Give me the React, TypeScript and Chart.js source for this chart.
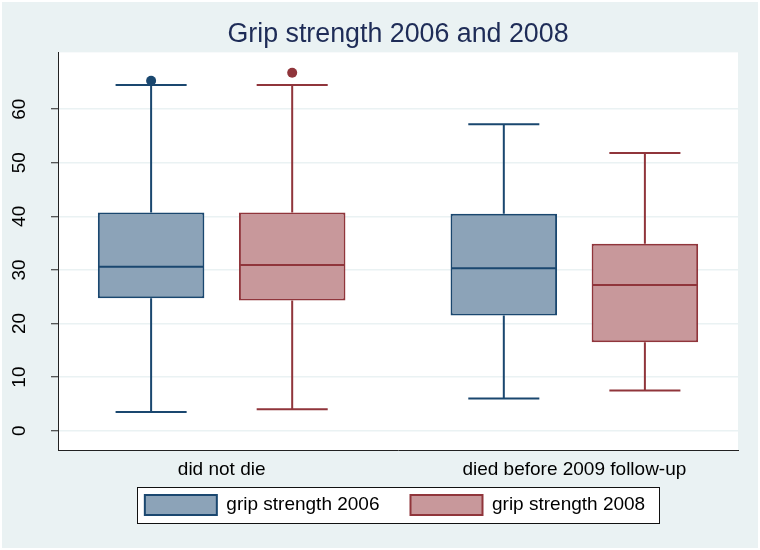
import { useEffect, useRef } from 'react';
import { Chart, registerables } from 'chart.js';

Chart.register(...registerables);

const FONT = "'Liberation Sans', Arial, Helvetica, sans-serif";

// Groups on the horizontal axis
const categories = ['did not die', 'died before 2009 follow-up'];
const groupPositions = [1, 2];
const yTicks = [0, 10, 20, 30, 40, 50, 60];

// grip strength 2006: five-number summaries per group
const min2006 = [3.5, 6.0];
const q1_2006 = [24.7, 21.5];
const median2006 = [30.6, 30.3];
const q3_2006 = [40.7, 40.5];
const max2006 = [64.5, 57.2];
const outliers2006 = [[65.3], []];

// grip strength 2008: five-number summaries per group
const min2008 = [4.0, 7.5];
const q1_2008 = [24.3, 16.5];
const median2008 = [30.9, 27.2];
const q3_2008 = [40.7, 34.9];
const max2008 = [64.5, 51.8];
const outliers2008 = [[66.8], []];

const NAVY = '#1A476F';
const NAVY_FILL = '#8CA3B8';
const MAROON = '#90353B';
const MAROON_FILL = '#C8989B';
const PAGE_BG = '#EAF2F3';

type Stats = { min: number[]; median: number[]; max: number[]; outliers: number[][] };

function boxDataset(label: string, q1: number[], q3: number[], stats: Stats, fill: string, line: string) {
  return {
    label,
    data: groupPositions.map((x, i) => ({ x, y: [q1[i], q3[i]] })),
    backgroundColor: fill,
    borderColor: line,
    borderWidth: 2,
    borderSkipped: false,
    categoryPercentage: 0.8,
    barPercentage: 0.755,
    stats,
  };
}

// Lifts the legend panel up into the gap under the category labels
const legendPlacement = {
  id: 'legendPlacement',
  afterLayout(chart: any) {
    const lg = chart.legend;
    if (!lg) return;
    lg.top -= 25;
    lg.bottom -= 25;
    lg.left -= 3;
    lg.right -= 3;
  },
};

// Paints the page background, the white plot region and the framed legend panel
const backdrop = {
  id: 'backdrop',
  beforeDraw(chart: any) {
    const { ctx, width, height, chartArea } = chart;
    ctx.save();
    ctx.fillStyle = '#ffffff';
    ctx.fillRect(0, 0, width, height);
    ctx.fillStyle = PAGE_BG;
    ctx.fillRect(2, 2, width - 4, height - 4);
    ctx.fillStyle = '#ffffff';
    ctx.fillRect(chartArea.left, chartArea.top, chartArea.right - chartArea.left, chartArea.bottom - chartArea.top);

    const boxes = chart.legend?.legendHitBoxes || [];
    if (boxes.length) {
      const first = boxes[0];
      const last = boxes[boxes.length - 1];
      const left = Math.round(first.left - 8) + 0.5;
      const right = Math.round(last.left + last.width + 14) + 0.5;
      const top = Math.round(first.top - 8) + 0.5;
      const bottom = Math.round(first.top + first.height + 8) + 0.5;
      ctx.fillStyle = '#ffffff';
      ctx.fillRect(left, top, right - left, bottom - top);
      ctx.strokeStyle = '#111111';
      ctx.lineWidth = 1;
      ctx.strokeRect(left, top, right - left, bottom - top);
    }
    ctx.restore();
  },
};

// Draws medians, whiskers, caps and outside values over the interquartile bars
const boxWhiskers = {
  id: 'boxWhiskers',
  afterDatasetsDraw(chart: any) {
    const { ctx } = chart;
    const yScale = chart.scales.y;
    chart.data.datasets.forEach((ds: any, di: number) => {
      const meta = chart.getDatasetMeta(di);
      const st: Stats = ds.stats;
      meta.data.forEach((bar: any, i: number) => {
        const { x, width } = bar.getProps(['x', 'width'], true);
        const half = width / 2;
        const cap = (width * 0.667) / 2;
        const [q1, q3] = ds.data[i].y;
        const pQ1 = yScale.getPixelForValue(q1);
        const pQ3 = yScale.getPixelForValue(q3);
        const pMed = yScale.getPixelForValue(st.median[i]);
        const pMin = yScale.getPixelForValue(st.min[i]);
        const pMax = yScale.getPixelForValue(st.max[i]);
        ctx.save();
        ctx.strokeStyle = ds.borderColor;
        ctx.lineWidth = 2;
        ctx.beginPath();
        ctx.moveTo(x - half + 1, pMed);
        ctx.lineTo(x + half - 1, pMed);
        ctx.moveTo(x, pQ3);
        ctx.lineTo(x, pMax);
        ctx.moveTo(x - cap, pMax);
        ctx.lineTo(x + cap, pMax);
        ctx.moveTo(x, pQ1);
        ctx.lineTo(x, pMin);
        ctx.moveTo(x - cap, pMin);
        ctx.lineTo(x + cap, pMin);
        ctx.stroke();
        ctx.fillStyle = ds.borderColor;
        st.outliers[i].forEach((v) => {
          ctx.beginPath();
          ctx.arc(x, yScale.getPixelForValue(v), 5, 0, Math.PI * 2);
          ctx.fill();
        });
        ctx.restore();
      });
    });
  },
};

export default function App() {
  const canvasRef = useRef<HTMLCanvasElement | null>(null);

  useEffect(() => {
    if (!canvasRef.current) return;
    const chart = new Chart(canvasRef.current, {
      type: 'bar',
      data: {
        datasets: [
          boxDataset('grip strength 2006', q1_2006, q3_2006,
            { min: min2006, median: median2006, max: max2006, outliers: outliers2006 }, NAVY_FILL, NAVY) as any,
          boxDataset('grip strength 2008', q1_2008, q3_2008,
            { min: min2008, median: median2008, max: max2008, outliers: outliers2008 }, MAROON_FILL, MAROON) as any,
        ],
      },
      options: {
        responsive: false,
        animation: false,
        events: [],
        layout: { padding: { left: 0, right: 22, top: 0, bottom: 0 } },
        plugins: {
          title: {
            display: true,
            text: 'Grip strength 2006 and 2008',
            fullSize: false,
            color: '#1E2C57',
            font: { family: FONT, size: 26.8, weight: 'normal' },
            padding: { top: 19, bottom: 1.2 },
          },
          legend: {
            position: 'bottom',
            fullSize: false,
            labels: {
              boxWidth: 72,
              boxHeight: 20,
              padding: 31,
              color: '#000000',
              font: { family: FONT, size: 19 },
            },
          },
          tooltip: { enabled: false },
        },
        scales: {
          x: {
            type: 'linear',
            min: 0.536,
            max: 2.464,
            offset: false,
            afterBuildTicks: (s: any) => {
              s.ticks = groupPositions.map((v) => ({ value: v }));
            },
            afterFit: (s: any) => {
              s.height = 39;
            },
            ticks: {
              callback: (v: any) => categories[groupPositions.indexOf(Number(v))],
              padding: 8,
              autoSkip: false,
              maxRotation: 0,
              color: '#000000',
              font: { family: FONT, size: 19 },
            },
            grid: { display: false, drawTicks: false },
            border: { display: true, color: '#222222', width: 1 },
          },
          y: {
            type: 'linear',
            min: -3.6,
            max: 70.6,
            afterBuildTicks: (s: any) => {
              s.ticks = yTicks.map((v) => ({ value: v }));
            },
            afterFit: (s: any) => {
              s.width = 58;
            },
            ticks: {
              minRotation: 90,
              maxRotation: 90,
              crossAlign: 'center',
              padding: 20.5,
              color: '#000000',
              font: { family: FONT, size: 19 },
            },
            grid: {
              color: PAGE_BG,
              lineWidth: 1.5,
              tickLength: 7,
              tickColor: '#222222',
              tickWidth: 1,
            },
            border: { display: true, color: '#222222', width: 1 },
          },
        },
      } as any,
      plugins: [legendPlacement, backdrop, boxWhiskers],
    });
    return () => chart.destroy();
  }, []);

  return (
    <div style={{ position: 'fixed', left: 0, top: 0, width: 760, height: 550 }}>
      <canvas ref={canvasRef} width={760} height={550} style={{ display: 'block' }} />
    </div>
  );
}
